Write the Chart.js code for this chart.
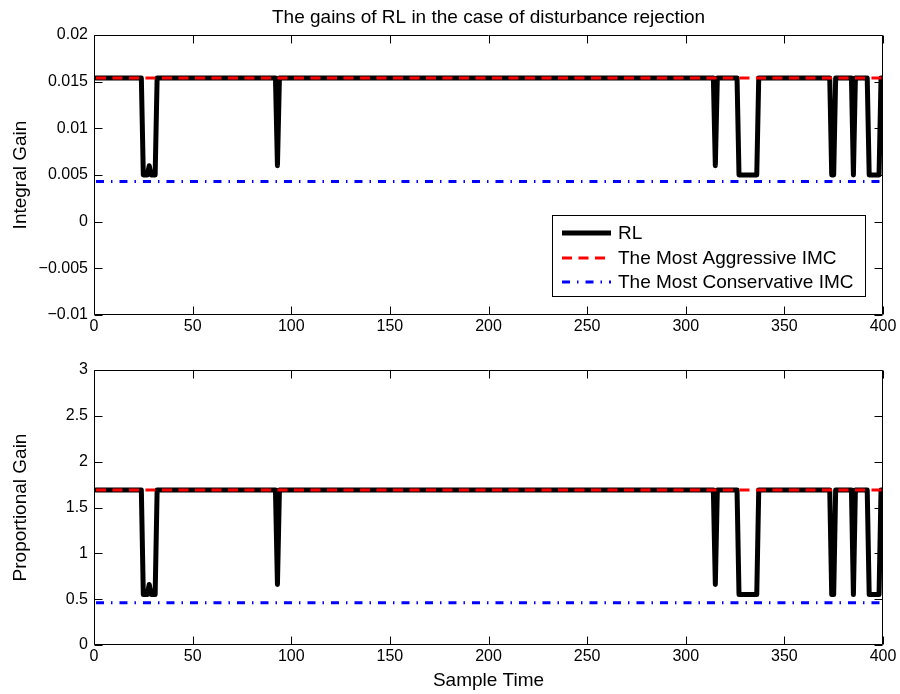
<!DOCTYPE html>
<html>
<head>
<meta charset="utf-8">
<script src="https://cdn.jsdelivr.net/npm/chart.js@4.4.1/dist/chart.umd.min.js"></script>
<style>
    html, body { margin: 0; padding: 0; background: #fff; }
    #wrap { position: relative; width: 900px; height: 694px; }
    #ki-chart { position: absolute; left: 0; top: 0; }
    #kp-chart { position: absolute; left: 0; top: 340px; }
</style>
</head>
<body>
<div id="wrap">
    <canvas id="ki-chart" width="900" height="340"></canvas>
    <canvas id="kp-chart" width="900" height="354"></canvas>
</div>
<script>
// Vertices of the RL gain trace (sample index -> gain), both gains switch together
const rlSamples      = [1, 24, 25, 27, 28, 29, 31, 32, 92, 93, 94, 314, 315, 316, 326, 327, 336, 337, 373, 374, 375, 376, 384, 385, 386, 392, 393, 398, 399, 400];
const rlIntegral     = [0.0154, 0.0154, 0.005, 0.005, 0.006, 0.005, 0.005, 0.0154, 0.0154, 0.006, 0.0154, 0.0154, 0.006, 0.0154, 0.0154, 0.005, 0.005, 0.0154, 0.0154, 0.005, 0.005, 0.0154, 0.0154, 0.005, 0.0154, 0.0154, 0.005, 0.005, 0.0154, 0.0154];
const rlProportional = [1.69, 1.69, 0.55, 0.55, 0.66, 0.55, 0.55, 1.69, 1.69, 0.66, 1.69, 1.69, 0.66, 1.69, 1.69, 0.55, 0.55, 1.69, 1.69, 0.55, 0.55, 1.69, 1.69, 0.55, 1.69, 1.69, 0.55, 0.55, 1.69, 1.69];

// Reference IMC tunings (constant over the run)
const imcRange        = [1, 400];
const aggressiveKi    = [0.0154, 0.0154];
const conservativeKi  = [0.0043, 0.0043];
const aggressiveKp    = [1.69, 1.69];
const conservativeKp  = [0.46, 0.46];

const seriesNames = ['RL', 'The Most Aggressive IMC', 'The Most Conservative IMC'];

const xTicks  = [0, 50, 100, 150, 200, 250, 300, 350, 400];
const kiTicks = [-0.01, -0.005, 0, 0.005, 0.01, 0.015, 0.02];
const kpTicks = [0, 0.5, 1, 1.5, 2, 2.5, 3];

const FONT = '"Liberation Sans", Arial, Helvetica, sans-serif';
const TEXT_SIZE = 19;
const RED  = '#ff0000';
const BLUE = '#0000ff';
const DASH      = [10, 6.5];
const DASH_DOT  = [8, 7, 1.5, 7];

const pts = (xs, ys) => xs.map((x, i) => ({ x, y: ys[i] }));
const fmt = (v) => String(Number(v.toFixed(4))).replace('-', '\u2212');

function buildDatasets(rl, aggr, cons) {
    return [
        { label: seriesNames[0], data: pts(rlSamples, rl), borderColor: '#000', borderWidth: 5, order: 3,
          borderCapStyle: 'round', borderJoinStyle: 'round' },
        { label: seriesNames[1], data: pts(imcRange, aggr), borderColor: RED, borderWidth: 3, borderDash: DASH, order: 2 },
        { label: seriesNames[2], data: pts(imcRange, cons), borderColor: BLUE, borderWidth: 3, borderDash: DASH_DOT, order: 1 },
    ].map(d => Object.assign(d, { pointRadius: 0, tension: 0, fill: false }));
}

// Box round the axes with inward ticks on all four sides
const axesBox = {
    id: 'axesBox',
    afterDatasetsDraw(chart) {
        const { ctx, chartArea: a, scales } = chart;
        const L = Math.round(a.left) + 0.5, R = Math.round(a.right) - 0.5;
        const T = Math.round(a.top) + 0.5, B = Math.round(a.bottom) - 0.5;
        const len = 8;
        ctx.save();
        ctx.strokeStyle = '#000';
        ctx.lineWidth = 1;
        ctx.beginPath();
        scales.x.ticks.forEach(t => {
            const px = Math.round(scales.x.getPixelForValue(t.value)) + 0.5;
            ctx.moveTo(px, B); ctx.lineTo(px, B - len);
            ctx.moveTo(px, T); ctx.lineTo(px, T + len);
        });
        scales.y.ticks.forEach(t => {
            const py = Math.round(scales.y.getPixelForValue(t.value)) + 0.5;
            ctx.moveTo(L, py); ctx.lineTo(L + len, py);
            ctx.moveTo(R, py); ctx.lineTo(R - len, py);
        });
        ctx.rect(L, T, R - L, B - T);
        ctx.stroke();
        ctx.restore();
    },
};

// Legend box inside the upper axes, lower right corner
const legendBox = {
    id: 'legendBox',
    afterDraw(chart) {
        if (!chart.options.plugins.legendBox?.show) return;
        const { ctx } = chart;
        const sets = chart.data.datasets;
        const x0 = 552.5, y0 = 215.5, w = 313, h = 81;
        ctx.save();
        ctx.fillStyle = '#fff';
        ctx.fillRect(x0, y0, w, h);
        ctx.strokeStyle = '#000';
        ctx.lineWidth = 1;
        ctx.strokeRect(x0, y0, w, h);
        ctx.font = TEXT_SIZE + 'px ' + FONT;
        ctx.textBaseline = 'middle';
        const rows = [233, 258, 282];
        sets.forEach((ds, i) => {
            ctx.beginPath();
            ctx.strokeStyle = ds.borderColor;
            ctx.lineWidth = ds.borderWidth;
            ctx.setLineDash(ds.borderDash || []);
            ctx.moveTo(562, rows[i]);
            ctx.lineTo(611, rows[i]);
            ctx.stroke();
            ctx.setLineDash([]);
            ctx.fillStyle = '#000';
            ctx.fillText(ds.label, 618, rows[i] + 1);
        });
        ctx.restore();
    },
};

function buildOptions(o) {
    const tickFont = { family: FONT, size: 16 };
    const textFont = { family: FONT, size: TEXT_SIZE, weight: 'normal' };
    return {
        responsive: false,
        animation: false,
        events: [],
        layout: { padding: { top: o.padTop, right: 17, left: 0, bottom: 0 } },
        plugins: {
            legend: { display: false },
            tooltip: { enabled: false },
            title: {
                display: !!o.title, text: o.title, fullSize: false, color: '#000',
                font: textFont, padding: { top: 6, bottom: 6.2 },
            },
            legendBox: { show: o.legend },
        },
        scales: {
            x: {
                type: 'linear', min: 0, max: 400,
                afterBuildTicks: (s) => { s.ticks = xTicks.map(v => ({ value: v })); },
                afterFit: (s) => { s.height = o.xHeight; },
                ticks: { color: '#000', font: tickFont, padding: 2, maxRotation: 0, autoSkip: false, callback: fmt },
                grid: { display: false, tickLength: 0 },
                border: { display: false },
                title: {
                    display: !!o.xTitle, text: o.xTitle, color: '#000',
                    font: textFont, padding: { top: 0, bottom: 2 },
                },
            },
            y: {
                type: 'linear', min: o.yTicks[0], max: o.yTicks[o.yTicks.length - 1],
                afterBuildTicks: (s) => { s.ticks = o.yTicks.map(v => ({ value: v })); },
                afterFit: (s) => { s.width = 94; },
                ticks: { color: '#000', font: tickFont, padding: 6, autoSkip: false, callback: fmt },
                grid: { display: false, tickLength: 0 },
                border: { display: false },
                title: {
                    display: true, text: o.yTitle, color: '#000',
                    font: textFont, padding: { top: 9, bottom: 0 },
                },
            },
        },
    };
}

Chart.register(axesBox, legendBox);

new Chart(document.getElementById('ki-chart'), {
    type: 'line',
    data: { datasets: buildDatasets(rlIntegral, aggressiveKi, conservativeKi) },
    options: buildOptions({
        title: 'The gains of RL in the case of disturbance rejection',
        padTop: 0, xHeight: 25, yTicks: kiTicks, yTitle: 'Integral Gain', legend: true,
    }),
});

new Chart(document.getElementById('kp-chart'), {
    type: 'line',
    data: { datasets: buildDatasets(rlProportional, aggressiveKp, conservativeKp) },
    options: buildOptions({
        title: '', padTop: 30, xHeight: 49, yTicks: kpTicks,
        yTitle: 'Proportional Gain', xTitle: 'Sample Time', legend: false,
    }),
});
</script>
</body>
</html>
